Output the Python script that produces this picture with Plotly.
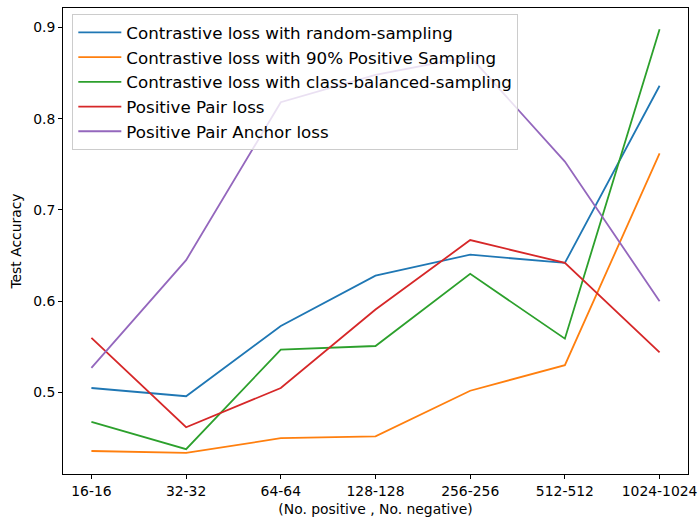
import plotly.graph_objects as go

categories = ["16-16", "32-32", "64-64", "128-128", "256-256", "512-512", "1024-1024"]

random_sampling = [0.505, 0.496, 0.573, 0.628, 0.651, 0.642, 0.836]
pos90_sampling = [0.436, 0.434, 0.450, 0.452, 0.502, 0.530, 0.762]
class_balanced = [0.468, 0.438, 0.547, 0.551, 0.630, 0.559, 0.898]
positive_pair = [0.560, 0.462, 0.505, 0.591, 0.667, 0.642, 0.544]
positive_pair_anchor = [0.527, 0.645, 0.818, 0.848, 0.868, 0.753, 0.600]

series_names = [
    "Contrastive loss with random-sampling",
    "Contrastive loss with 90% Positive Sampling",
    "Contrastive loss with class-balanced-sampling",
    "Positive Pair loss",
    "Positive Pair Anchor loss",
]
series_values = [random_sampling, pos90_sampling, class_balanced, positive_pair, positive_pair_anchor]
colors = ["#1f77b4", "#ff7f0e", "#2ca02c", "#d62728", "#9467bd"]

y_ticks = [0.5, 0.6, 0.7, 0.8, 0.9]
y_tick_labels = ["0.5", "0.6", "0.7", "0.8", "0.9"]

FONT = "DejaVu Sans"
TICK_SIZE = 13.9
LEGEND_SIZE = 16.7

fig = go.Figure()
for i, (name, vals, c) in enumerate(zip(series_names, series_values, colors)):
    fig.add_trace(go.Scatter(
        x=list(range(len(categories))), y=vals, mode="lines", name=name,
        line=dict(color=c, width=1.8),
        legendgroup=f"g{i}",
    ))

fig.update_layout(
    width=698, height=518,
    margin=dict(l=63, r=10, t=8, b=44),
    paper_bgcolor="white", plot_bgcolor="white",
    font=dict(family=FONT, size=TICK_SIZE, color="black"),
    showlegend=True,
    legend=dict(
        x=0.0149, y=0.987, xanchor="left", yanchor="top",
        bgcolor="rgba(255,255,255,0.8)", bordercolor="#cccccc", borderwidth=1,
        font=dict(family=FONT, size=LEGEND_SIZE, color="black"),
        tracegroupgap=0, itemwidth=43,
    ),
    xaxis=dict(
        range=[-0.3, 6.3], automargin=False,
        tickmode="array", tickvals=list(range(len(categories))), ticktext=categories,
        showgrid=False, zeroline=False,
        showline=True, linecolor="black", linewidth=1, mirror=True,
        ticks="outside", ticklen=4, tickwidth=1, tickcolor="black",
        title=dict(text="(No. positive , No. negative)", font=dict(family=FONT, size=TICK_SIZE), standoff=6),
    ),
    yaxis=dict(
        range=[0.4108, 0.9212], automargin=False,
        tickmode="array", tickvals=y_ticks, ticktext=y_tick_labels,
        showgrid=False, zeroline=False,
        showline=True, linecolor="black", linewidth=1, mirror=True,
        ticks="outside", ticklen=4, tickwidth=1, tickcolor="black",
        title=dict(text="Test Accuracy", font=dict(family=FONT, size=TICK_SIZE), standoff=8),
    ),
)

fig.write_html("out.html")
